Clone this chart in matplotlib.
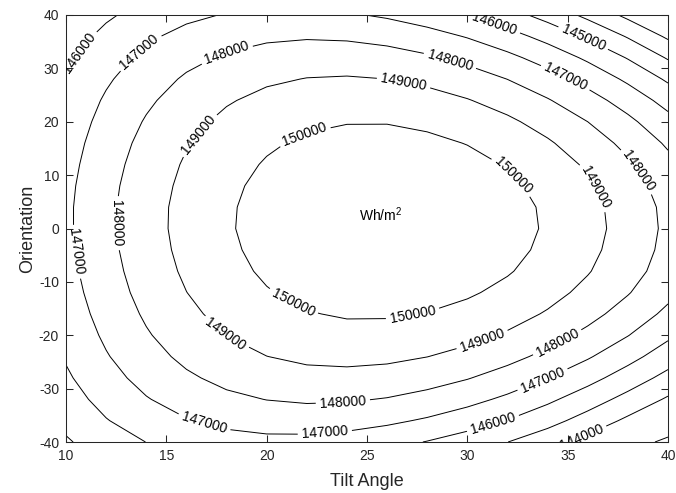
import numpy as np
import matplotlib
matplotlib.use('Agg')
import matplotlib.pyplot as plt

plt.rcParams['font.family'] = ['Liberation Sans', 'DejaVu Sans']
plt.rcParams['mathtext.default'] = 'regular'
plt.rcParams['axes.unicode_minus'] = False

# grid: tilt angle (x), orientation (y), yearly irradiation in Wh/m2
tilt = [10, 12, 14, 16, 18, 20, 22, 24, 26, 28, 30, 32, 34, 36, 38, 40]
orientation = [-40, -36, -32, -28, -24, -20, -16, -12, -8, -4, 0, 4, 8, 12, 16, 20, 24, 28, 32, 36, 40]
irradiation = [
    [144890, 145510, 146010, 146380, 146630, 146740, 146730, 146590, 146330, 145960, 145520, 145010, 144390, 143670, 143250, 142880],
    [145260, 145950, 146510, 146940, 147250, 147430, 147470, 147400, 147190, 146880, 146470, 145970, 145350, 144600, 143810, 143400],
    [145580, 146330, 146940, 147430, 147790, 148020, 148130, 148100, 147950, 147680, 147300, 146810, 146200, 145480, 144680, 143880],
    [145860, 146650, 147320, 147850, 148260, 148540, 148700, 148720, 148620, 148390, 148050, 147590, 147010, 146330, 145540, 144690],
    [146090, 146930, 147640, 148220, 148670, 148990, 149190, 149260, 149200, 149010, 148710, 148290, 147750, 147100, 146330, 145480],
    [146290, 147160, 147910, 148520, 149010, 149370, 149600, 149710, 149680, 149540, 149270, 148890, 148380, 147760, 147030, 146180],
    [146450, 147360, 148130, 148780, 149300, 149690, 149950, 150090, 150090, 149970, 149740, 149380, 148910, 148310, 147600, 146780],
    [146590, 147520, 148320, 148990, 149530, 149940, 150230, 150390, 150420, 150330, 150110, 149780, 149320, 148750, 148060, 147250],
    [146700, 147640, 148460, 149150, 149710, 150140, 150440, 150620, 150670, 150590, 150390, 150070, 149630, 149060, 148380, 147570],
    [146780, 147730, 148560, 149260, 149830, 150270, 150590, 150780, 150840, 150770, 150570, 150260, 149810, 149240, 148550, 147730],
    [146820, 147780, 148620, 149320, 149900, 150340, 150660, 150850, 150920, 150850, 150660, 150350, 149900, 149330, 148630, 147800],
    [146820, 147780, 148610, 149310, 149880, 150330, 150650, 150840, 150900, 150830, 150640, 150320, 149870, 149290, 148590, 147760],
    [146770, 147720, 148540, 149230, 149800, 150240, 150550, 150730, 150790, 150710, 150510, 150180, 149720, 149140, 148420, 147580],
    [146680, 147620, 148430, 149110, 149660, 150080, 150380, 150550, 150590, 150500, 150280, 149940, 149470, 148870, 148140, 147280],
    [146570, 147490, 148280, 148940, 149470, 149870, 150150, 150290, 150310, 150200, 149970, 149600, 149110, 148490, 147740, 146860],
    [146430, 147320, 148080, 148710, 149220, 149600, 149840, 149960, 149960, 149820, 149560, 149170, 148650, 148000, 147220, 146320],
    [146260, 147120, 147840, 148440, 148910, 149260, 149470, 149560, 149520, 149350, 149050, 148630, 148070, 147390, 146590, 145650],
    [146060, 146870, 147560, 148120, 148550, 148850, 149030, 149080, 149000, 148790, 148450, 147990, 147390, 146670, 145820, 144850],
    [145810, 146580, 147230, 147740, 148120, 148380, 148510, 148510, 148390, 148130, 147750, 147240, 146600, 145830, 144940, 143910],
    [145530, 146250, 146830, 147300, 147630, 147830, 147910, 147860, 147680, 147370, 146940, 146370, 145680, 144860, 143920, 142840],
    [145190, 145850, 146380, 146780, 147060, 147200, 147220, 147110, 146870, 146510, 146010, 145390, 144640, 143760, 142760, 142300],
]
levels = [143000, 144000, 145000, 146000, 147000, 148000, 149000, 150000]

# where the inline labels sit (data coords), picked to match the original
label_pos = [(10.5, 33.4), (13.6, 33.4), (18, 32.9), (16.5, 17.9), (21.9, 17.5),
             (12.4, 1.0), (10.3, -4.5), (21.3, -14), (18, -19.6), (16.9, -36.2),
             (23.8, -32.5), (22.9, -38.3), (27.3, -16.6), (30.8, -21.5), (34.6, -22.2),
             (33.8, -28.8), (31.3, -36.8), (35.6, -38.3), (32.3, 10), (36.4, 7.8),
             (38.6, 11), (26.8, 26.9), (29.1, 31), (34.9, 28.4), (31.3, 37.8), (35.8, 35.9)]

fig = plt.figure(figsize=(6.76, 4.93), dpi=100)
ax = fig.add_axes([66 / 676, 51 / 493, 602 / 676, 427 / 493])

cs = ax.contour(tilt, orientation, np.array(irradiation), levels=levels, colors='k', linewidths=0.7)
ax.clabel(cs, levels, inline=True, fmt='%d', fontsize=10, manual=label_pos, inline_spacing=4)
ax.text(24.6, 2.6, 'Wh/m$^2$', fontsize=10, ha='left', va='center')

ax.set_xlim(10, 40)
ax.set_ylim(-40, 40)
ax.set_xticks(np.arange(10, 41, 5))
ax.set_yticks(np.arange(-40, 41, 10))
ax.tick_params(direction='in', length=5, width=0.75, colors='#262626', labelsize=10,
               top=True, right=True, pad=5)
for sp in ax.spines.values():
    sp.set_color('#262626')
    sp.set_linewidth(0.75)
ax.set_xlabel('Tilt Angle', fontsize=13, color='#262626', labelpad=7)
ax.set_ylabel('Orientation', fontsize=13, color='#262626', labelpad=2)

fig.savefig('out.png', dpi=100)
